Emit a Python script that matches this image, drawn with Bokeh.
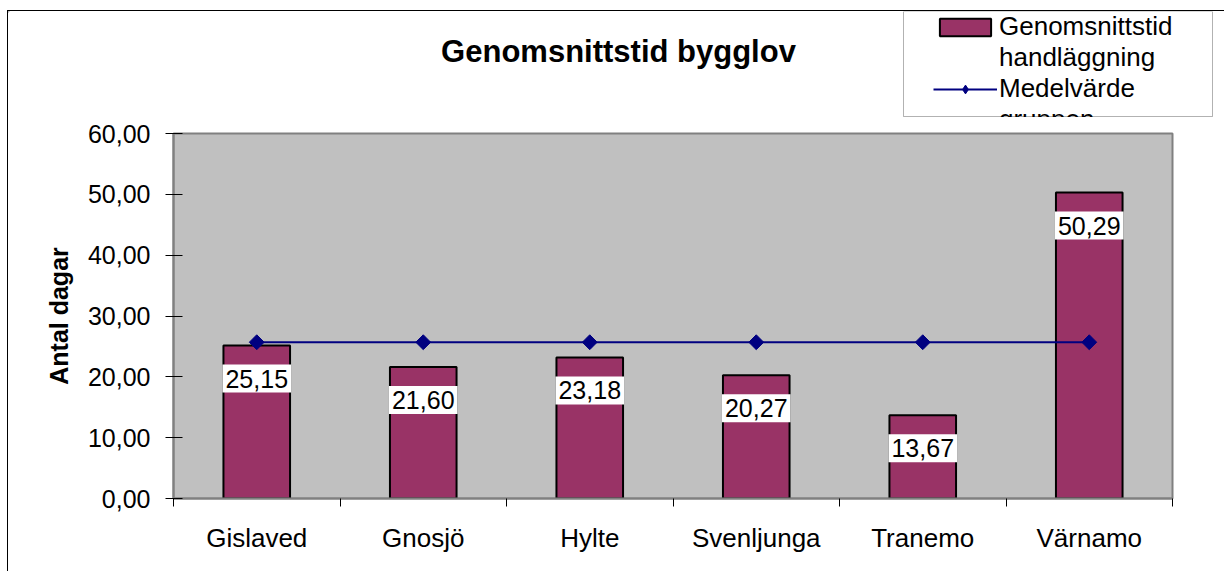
import math
from bokeh.plotting import figure
from bokeh.layouts import column
from bokeh.models import (Range1d, FixedTicker, ColumnDataSource, Legend, LegendItem,
                          BoxAnnotation)
from bokeh.core.properties import value
from bokeh.embed import file_html
from bokeh.resources import INLINE

# ---- data ----
categories = ["Gislaved", "Gnosjö", "Hylte", "Svenljunga", "Tranemo", "Värnamo"]
handlaggning = [25.15, 21.60, 23.18, 20.27, 13.67, 50.29]
medelvarde = [25.69, 25.69, 25.69, 25.69, 25.69, 25.69]
y_ticks = [0, 10, 20, 30, 40, 50, 60]
y_tick_labels = ["0,00", "10,00", "20,00", "30,00", "40,00", "50,00", "60,00"]
title_text = "Genomsnittstid bygglov"
bar_series_lines = ["Genomsnittstid", "handläggning"]
mean_series_lines = ["Medelvärde", "gruppen"]

FONT = "Liberation Sans"
BAR_COLOR = "#993366"
LINE_COLOR = "#000080"

TOTAL_W = 1217
HEAD_H = 106
MAIN_H = 455

# ---------------- main chart ----------------
x_pos = [i + 0.5 for i in range(len(categories))]
bar_labels = [f"{v:.2f}".replace(".", ",") for v in handlaggning]
src = ColumnDataSource(dict(x=x_pos, bar=handlaggning, mean=medelvarde, label=bar_labels))

p = figure(width=TOTAL_W, height=MAIN_H,
           x_range=Range1d(0, len(categories)), y_range=Range1d(0, 60),
           output_backend="svg", toolbar_location=None, frame_align=False,
           min_border_left=165, min_border_right=53,
           min_border_top=16, min_border_bottom=74,
           background_fill_color="#C0C0C0", border_fill_color="white",
           outline_line_color="#808080", outline_line_width=2)
p.xgrid.visible = False
p.ygrid.visible = False

p.vbar(x="x", top="bar", bottom=0, width=0.4, source=src,
       fill_color=BAR_COLOR, line_color="black", line_width=2)
p.line("x", "mean", source=src, line_color=LINE_COLOR, line_width=2)
p.scatter("x", "mean", source=src, marker="square", angle=math.pi / 4,
          size=10.5, fill_color=LINE_COLOR, line_color=LINE_COLOR)

p.text(x="x", y="bar", text="label", source=src,
       text_font=value(FONT), text_font_size="25px", text_color="black",
       text_align="center", text_baseline="middle", y_offset=33,
       background_fill_color="white", padding=(3, 5))

# x axis: labels at category centres, tick marks at category boundaries
xa = p.xaxis[0]
xa.ticker = FixedTicker(ticks=x_pos, minor_ticks=list(range(len(categories) + 1)))
xa.major_label_overrides = {xp: c for xp, c in zip(x_pos, categories)}
xa.major_label_text_font = FONT
xa.major_label_text_font_size = "26px"
xa.major_label_text_color = "black"
xa.major_tick_line_color = None
xa.major_tick_out = 8
xa.major_tick_in = 0
xa.minor_tick_line_color = "black"
xa.minor_tick_out = 8
xa.minor_tick_in = 0
xa.major_label_standoff = 16
xa.axis_line_color = "#808080"
xa.axis_line_width = 2

# y axis
ya = p.yaxis[0]
ya.ticker = FixedTicker(ticks=y_ticks)
ya.major_label_overrides = {t: l for t, l in zip(y_ticks, y_tick_labels)}
ya.major_label_text_font = FONT
ya.major_label_text_font_size = "25px"
ya.major_label_text_color = "black"
ya.major_tick_line_color = "black"
ya.major_tick_in = 9
ya.major_tick_out = 8
ya.minor_tick_line_color = None
ya.major_label_standoff = 15
ya.axis_line_color = "#808080"
ya.axis_line_width = 2
ya.axis_label = "Antal dagar"
ya.axis_label_text_font = FONT
ya.axis_label_text_font_size = "25px"
ya.axis_label_text_font_style = "bold"
ya.axis_label_text_color = "black"
ya.axis_label_standoff = 12

# ---------------- header: title + legend ----------------
h = figure(width=TOTAL_W, height=HEAD_H,
           x_range=Range1d(0, TOTAL_W), y_range=Range1d(HEAD_H, 0),
           output_backend="svg", toolbar_location=None, frame_align=False,
           x_axis_location=None, y_axis_location=None,
           min_border=0, min_border_left=0, min_border_right=0,
           min_border_top=0, min_border_bottom=0, outline_line_color=None,
           background_fill_color="white", border_fill_color="white")
h.xgrid.visible = False
h.ygrid.visible = False

h.text(x=[610], y=[40], text=[title_text],
       text_font=value(FONT), text_font_size="31px", text_font_style="bold",
       text_color="black", text_align="center", text_baseline="middle")

# legend frame
h.add_layout(BoxAnnotation(left=895, right=1204, top=0, bottom=105,
                           fill_color="white", fill_alpha=1,
                           line_color="black", line_width=1))

# legend proxies (kept outside the visible header area)
lb = h.vbar(x=[-50], top=[-50], bottom=[-60], width=5,
            fill_color=BAR_COLOR, line_color="black", line_width=2)
ll = h.line(x=[-60, -50], y=[-50, -50], line_color=LINE_COLOR, line_width=2)
lm = h.scatter(x=[-55], y=[-50], marker="diamond", size=14,
               fill_color=LINE_COLOR, line_color=LINE_COLOR)
blank = h.line(x=[-60, -50], y=[-40, -40], line_alpha=0)

legend = Legend(items=[
    LegendItem(label=bar_series_lines[0], renderers=[lb]),
    LegendItem(label=bar_series_lines[1], renderers=[blank]),
    LegendItem(label=mean_series_lines[0], renderers=[ll, lm]),
    LegendItem(label=mean_series_lines[1], renderers=[blank]),
], location="top_right")
legend.label_text_font = FONT
legend.label_text_font_size = "26px"
legend.label_text_color = "black"
legend.glyph_width = 64
legend.glyph_height = 22
legend.label_standoff = 2
legend.label_width = 226
legend.padding = 4
legend.spacing = 0
legend.margin = 0
legend.border_line_color = None
legend.background_fill_alpha = 0
h.add_layout(legend)

layout = column(h, p, margin=(11, 0, 0, 8),
                styles={"box-shadow": "-1px -1px 0px 0px black"})

open("out.html", "w").write(file_html(layout, INLINE))
